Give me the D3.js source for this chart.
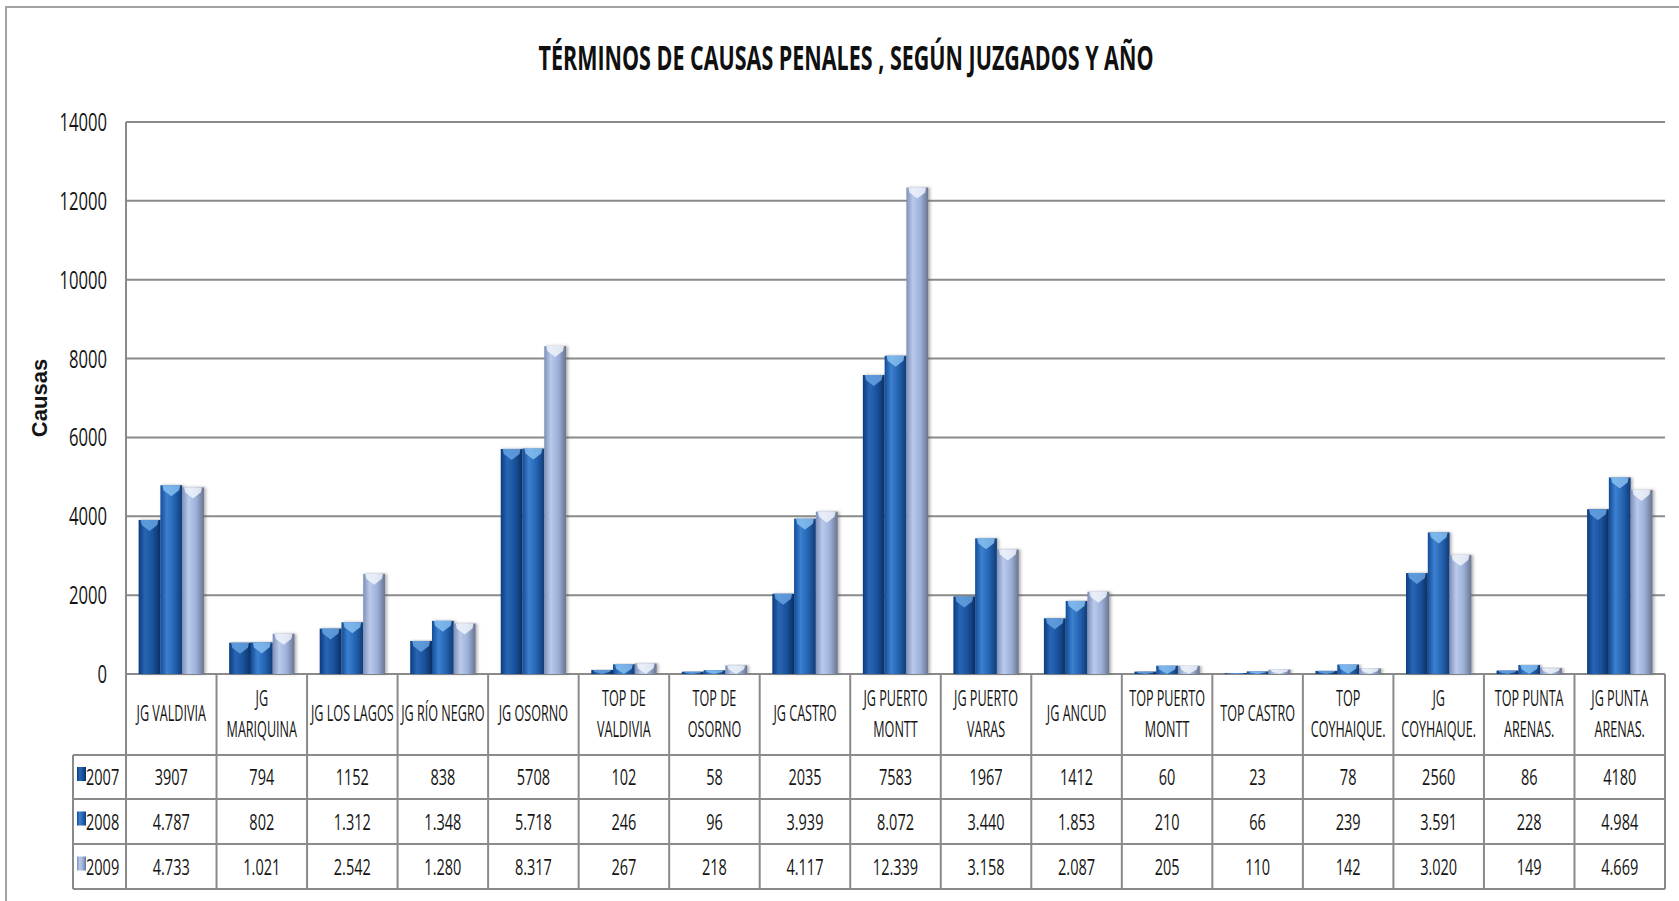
<!DOCTYPE html>
<html>
<head>
<meta charset="utf-8">
<script src="https://cdn.jsdelivr.net/npm/d3@7"></script>
<style>
  html, body { margin: 0; padding: 0; background: #fff; }
  svg { display: block; }
  text { font-family: "Open Sans", "Liberation Sans", sans-serif; fill: #141414; }
</style>
</head>
<body>
<script>
// Términos de causas penales por juzgado, 2007–2009
const categories = [
  "JG VALDIVIA", "JG\nMARIQUINA", "JG LOS LAGOS", "JG RÍO NEGRO", "JG OSORNO",
  "TOP DE\nVALDIVIA", "TOP DE\nOSORNO", "JG CASTRO", "JG PUERTO\nMONTT",
  "JG PUERTO\nVARAS", "JG ANCUD", "TOP PUERTO\nMONTT", "TOP CASTRO",
  "TOP\nCOYHAIQUE.", "JG\nCOYHAIQUE.", "TOP PUNTA\nARENAS.", "JG PUNTA\nARENAS."
];
const years = ["2007", "2008", "2009"];
const values2007 = [3907, 794, 1152, 838, 5708, 102, 58, 2035, 7583, 1967, 1412, 60, 23, 78, 2560, 86, 4180];
const values2008 = [4787, 802, 1312, 1348, 5718, 246, 96, 3939, 8072, 3440, 1853, 210, 66, 239, 3591, 228, 4984];
const values2009 = [4733, 1021, 2542, 1280, 8317, 267, 218, 4117, 12339, 3158, 2087, 205, 110, 142, 3020, 149, 4669];
const yTicks = [0, 2000, 4000, 6000, 8000, 10000, 12000, 14000];
const titleText = "TÉRMINOS DE CAUSAS PENALES , SEGÚN JUZGADOS Y AÑO";
const yAxisTitle = "Causas";

const series = [values2007, values2008, values2009];

// 2007 is printed without grouping, later years with "." as thousands separator
const esLocale = d3.formatLocale({ decimal: ",", thousands: ".", grouping: [3], currency: ["$", ""] });
const fmtPlain = d3.format("d");
const fmtGrouped = esLocale.format(",d");
const rowFormat = [fmtPlain, fmtGrouped, fmtGrouped];

const W = 1679, H = 901;
const plot = { left: 126, right: 1665, top: 122, bottom: 674 };
const table = { legendLeft: 73, rows: [755, 799, 844, 889] };
const lineColor = "#8a8a8a";

const svg = d3.select("body").append("svg").attr("width", W).attr("height", H);

const defs = svg.append("defs");
const gradStops = {
  "2007": [[0, "#0c3b7e"], [0.3, "#2866b5"], [0.65, "#1a529c"], [1, "#0a2f63"]],
  "2008": [[0, "#144c98"], [0.3, "#3b80d0"], [0.65, "#2463b1"], [1, "#113b76"]],
  "2009": [[0, "#7d90b8"], [0.3, "#b9caeb"], [0.65, "#9cb0d8"], [1, "#69748f"]]
};
const capColor = { "2007": "#6aa8e6", "2008": "#8cc4f4", "2009": "#f4f7fc" };
years.forEach(yr => {
  const g = defs.append("linearGradient").attr("id", "bar-" + yr)
    .attr("x1", 0).attr("x2", 1).attr("y1", 0).attr("y2", 0);
  gradStops[yr].forEach(([o, c]) => g.append("stop").attr("offset", o).attr("stop-color", c));
});
const shadow = defs.append("filter").attr("id", "bar-shadow")
  .attr("x", "-30%").attr("y", "-5%").attr("width", "160%").attr("height", "110%");
shadow.append("feDropShadow").attr("dx", 2).attr("dy", 0).attr("stdDeviation", 1.6)
  .attr("flood-color", "#555").attr("flood-opacity", 0.45);

// Outer chart frame
svg.append("rect").attr("x", 6).attr("y", 7).attr("width", W + 20).attr("height", H + 40)
  .attr("fill", "none").attr("stroke", "#a3a3a3").attr("stroke-width", 2);

// Scales
const x0 = d3.scaleBand().domain(d3.range(categories.length)).range([plot.left, plot.right]).padding(0);
const x1 = d3.scaleBand().domain(years).range([0, x0.bandwidth()]).paddingInner(0).paddingOuter(0.58);
const y = d3.scaleLinear().domain([0, 14000]).range([plot.bottom, plot.top]);

// Text helper: horizontally condensed labels
function condensed(sel, x, yPos, str, size, sx, anchor, weight) {
  const g = sel.append("g").attr("transform", `translate(${x},${yPos}) scale(${sx},1)`);
  return g.append("text").attr("text-anchor", anchor || "middle")
    .attr("font-size", size).attr("font-weight", weight || 400).text(str);
}

// Gridlines
svg.append("g").selectAll("line").data(yTicks).join("line")
  .attr("x1", plot.left).attr("x2", plot.right)
  .attr("y1", d => y(d)).attr("y2", d => y(d))
  .attr("stroke", lineColor).attr("stroke-width", 2);

// Y tick labels
const yLab = svg.append("g");
yTicks.forEach(t => condensed(yLab, 107, y(t) + 9, String(t), 26, 0.64, "end"));

// Y axis title
svg.append("text")
  .attr("transform", `translate(47,398) rotate(-90)`)
  .attr("text-anchor", "middle").attr("font-size", 22).attr("font-weight", 700)
  .style("font-family", "'Liberation Sans', Arial, sans-serif")
  .text(yAxisTitle);

// Title
svg.append("text").attr("x", 846).attr("y", 70).attr("text-anchor", "middle")
  .attr("font-size", 34).attr("font-weight", 700)
  .attr("textLength", 615).attr("lengthAdjust", "spacingAndGlyphs")
  .style("fill", "#101010")
  .text(titleText);

// Bars
const groups = svg.append("g").selectAll("g").data(categories.map((c, i) => i)).join("g")
  .attr("transform", i => `translate(${x0(i)},0)`);

groups.selectAll("g.bar").data(i => years.map((yr, s) => ({ yr, v: series[s][i] })))
  .join("g").attr("class", "bar")
  .each(function (d) {
    const g = d3.select(this);
    const bx = x1(d.yr), bw = x1.bandwidth();
    const top = y(d.v), h = y(0) - y(d.v);
    g.append("rect").attr("x", bx).attr("y", top).attr("width", bw).attr("height", h)
      .attr("fill", `url(#bar-${d.yr})`).attr("filter", "url(#bar-shadow)");
    const ch = Math.min(11, h);
    const cap = d3.path();
    cap.moveTo(bx + 2, top);
    cap.lineTo(bx + bw - 2, top);
    cap.lineTo(bx + bw - 3, top + ch * 0.45);
    cap.lineTo(bx + bw / 2, top + ch);
    cap.lineTo(bx + 3, top + ch * 0.45);
    cap.closePath();
    g.append("path").attr("d", cap.toString()).attr("fill", capColor[d.yr]).attr("opacity", 0.8);
  });

// Data table grid
const tbl = svg.append("g").attr("stroke", lineColor).attr("stroke-width", 2);
const colEdges = categories.map((c, i) => x0(i)).concat([plot.right]);
tbl.selectAll("line.v").data(colEdges).join("line").attr("class", "v")
  .attr("x1", d => d).attr("x2", d => d)
  .attr("y1", (d, i) => i === 0 ? plot.top : plot.bottom)
  .attr("y2", table.rows[3]);
tbl.append("line").attr("x1", table.legendLeft).attr("x2", table.legendLeft)
  .attr("y1", table.rows[0]).attr("y2", table.rows[3]);
tbl.selectAll("line.h").data(table.rows).join("line").attr("class", "h")
  .attr("x1", table.legendLeft).attr("x2", plot.right)
  .attr("y1", d => d).attr("y2", d => d);

// Category header labels
const head = svg.append("g");
categories.forEach((c, i) => {
  const cx = x0(i) + x0.bandwidth() / 2;
  const lines = c.split("\n");
  if (lines.length === 1) {
    condensed(head, cx, 721, lines[0], 21, 0.6);
  } else {
    condensed(head, cx, 706, lines[0], 21, 0.6);
    condensed(head, cx, 737, lines[1], 21, 0.6);
  }
});

// Value rows with legend keys
const body = svg.append("g");
years.forEach((yr, s) => {
  const cy = (table.rows[s] + table.rows[s + 1]) / 2;
  body.append("rect").attr("x", 77).attr("y", cy - 10).attr("width", 9).attr("height", 14)
    .attr("fill", `url(#bar-${yr})`);
  condensed(body, 86, cy + 8, yr, 22, 0.66, "start");
  series[s].forEach((v, i) => {
    condensed(body, x0(i) + x0.bandwidth() / 2, cy + 8, rowFormat[s](v), 22, 0.66);
  });
});
</script>
</body>
</html>
